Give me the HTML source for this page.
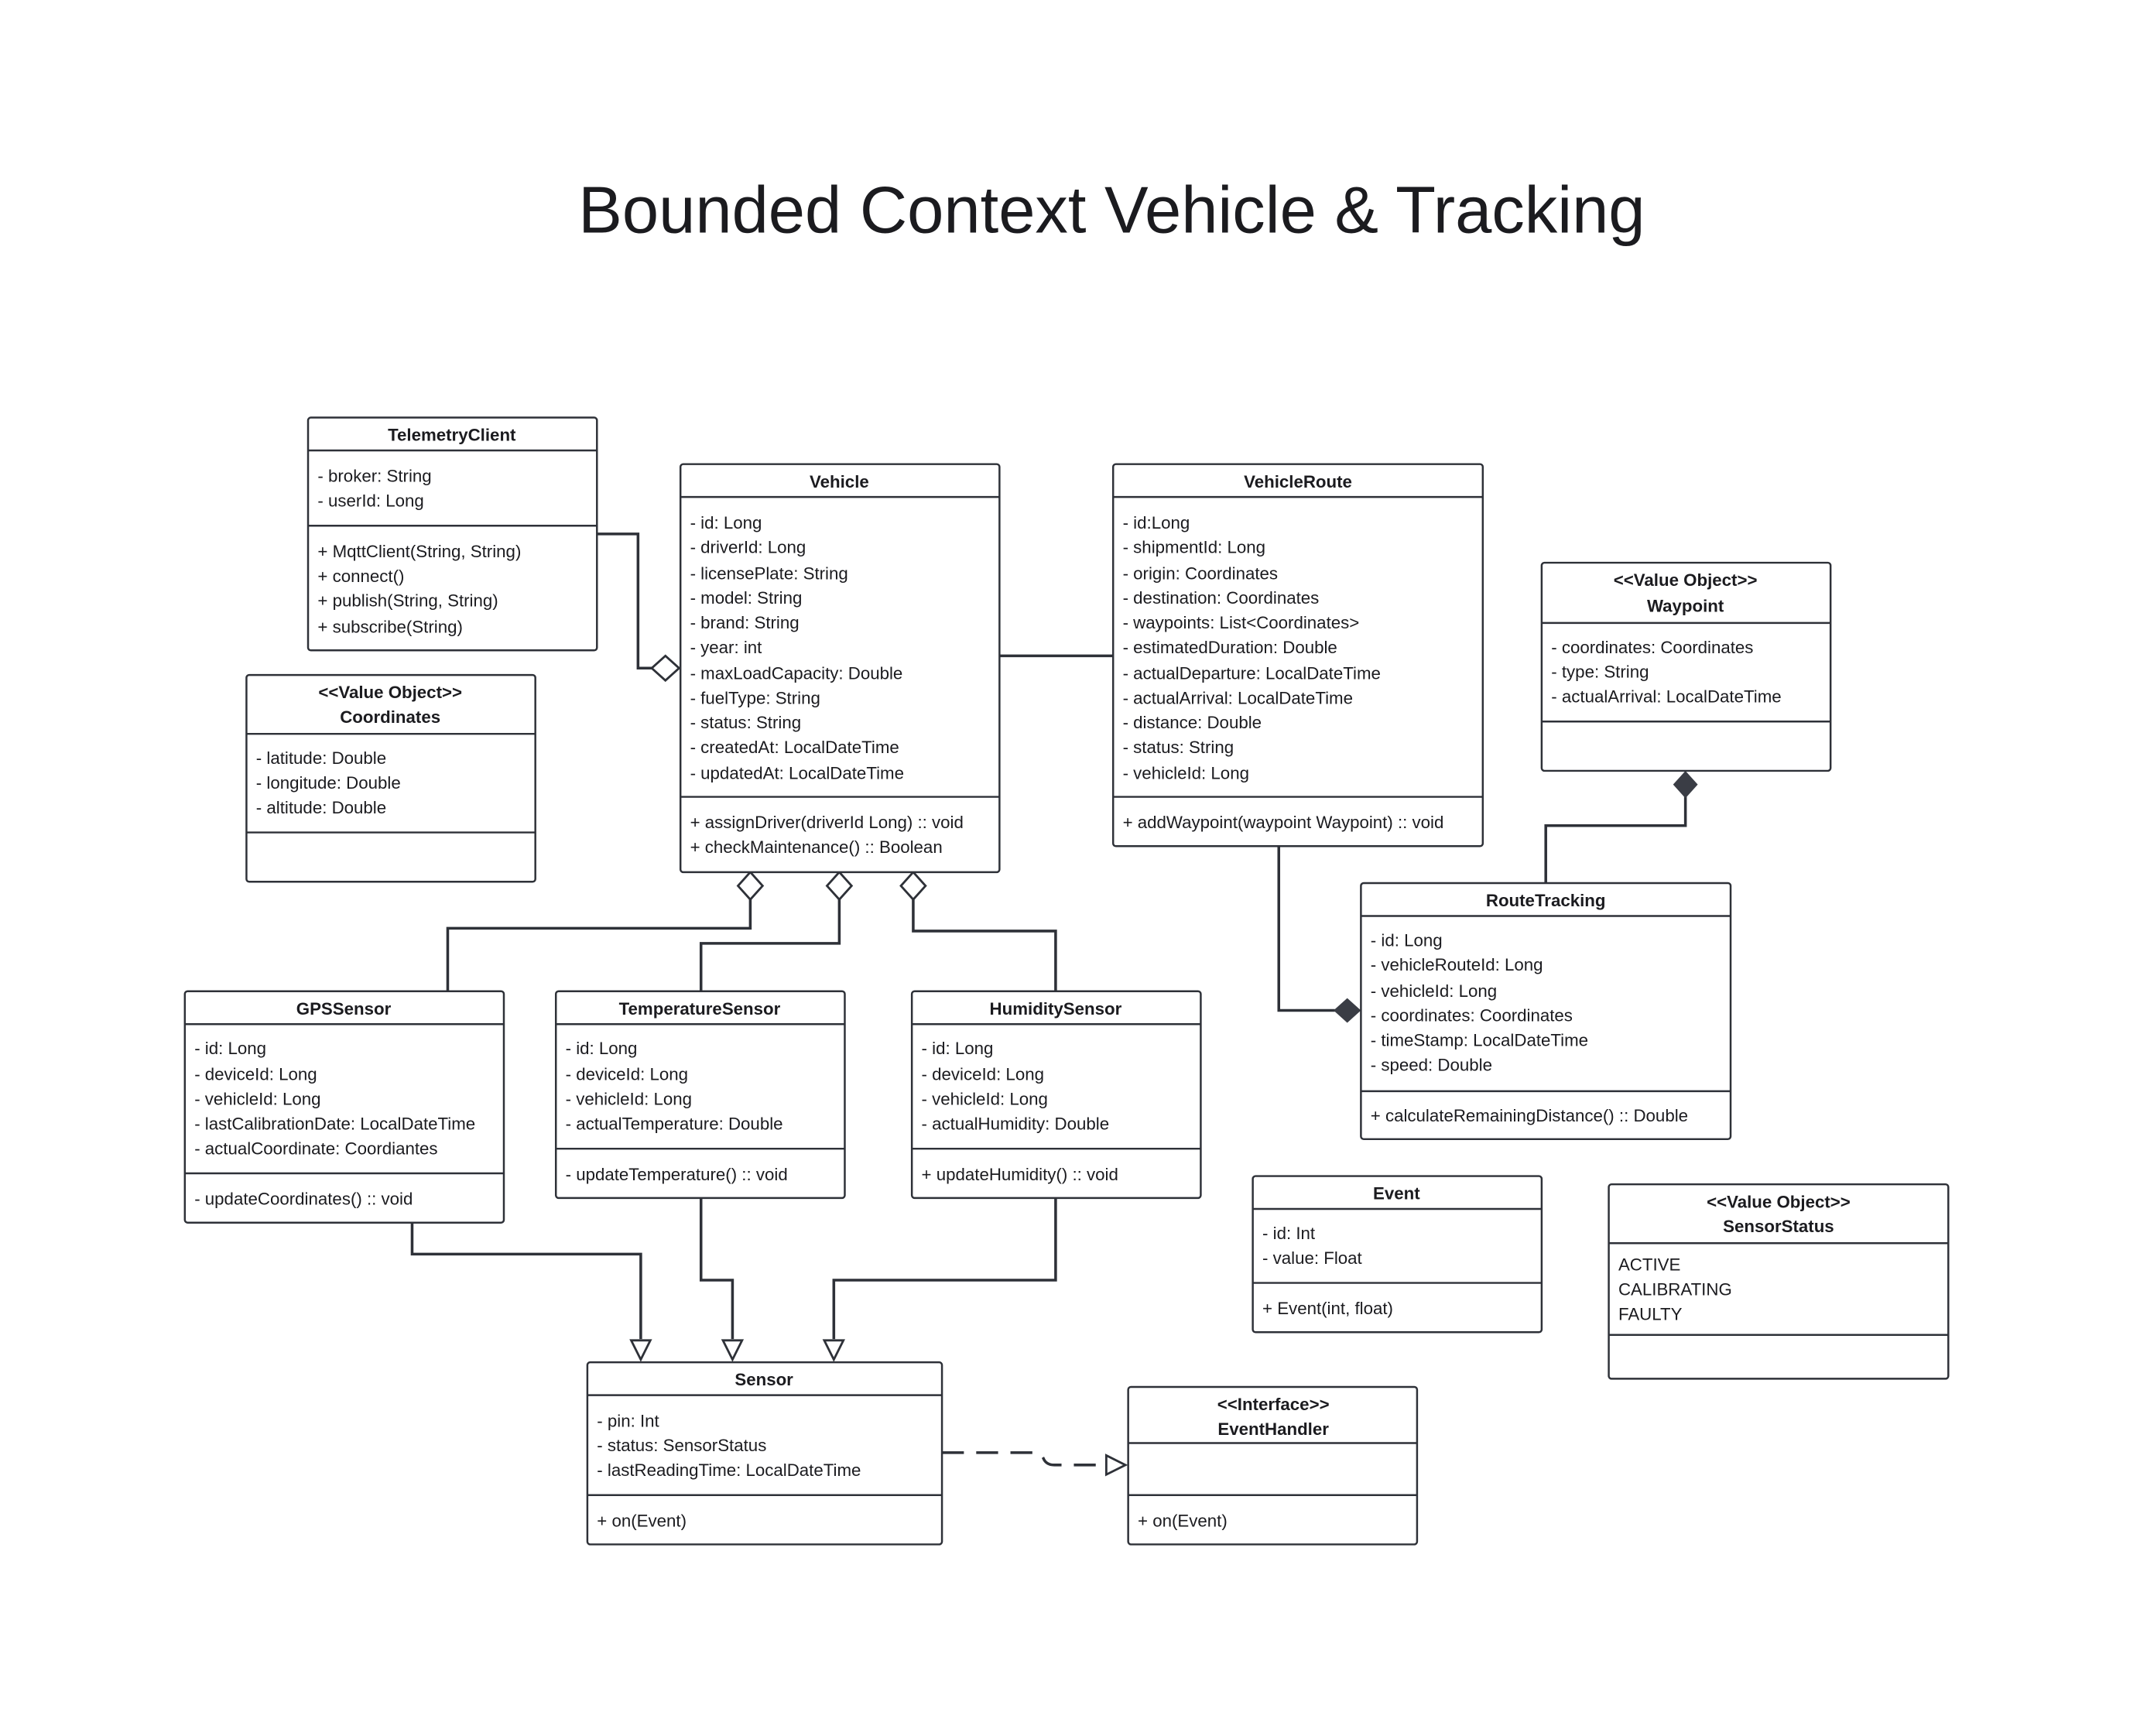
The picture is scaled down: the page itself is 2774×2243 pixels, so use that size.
<!DOCTYPE html>
<html><head><meta charset="utf-8"><style>
html,body{margin:0;padding:0;background:#fff;}
#wrap{width:2774px;height:2243px;overflow:hidden;position:relative;}
svg{position:absolute;left:0;top:0;transform-origin:0 0;transform:scale(1.769);}
text{font-family:"Liberation Sans",sans-serif;font-size:12.6px;fill:#1b1b1f;}
.h{font-weight:bold;text-anchor:middle;}
.t{font-size:48px;text-anchor:middle;}
rect{fill:#fff;stroke:#2e3138;stroke-width:1.4;}
.l{fill:none;stroke:#2e3138;stroke-width:2;}
.d{stroke:#2e3138;stroke-width:1.4;}
</style></head><body><div id="wrap">
<svg width="1568" height="1268" viewBox="0 0 1568 1268">
<text class="t" x="812" y="170">Bounded Context Vehicle &amp; Tracking</text>

<path class="l" d="M436 390 H466 V488 H477"/>
<polygon points="476,488 486,479 496,488 486,497" fill="#fff" stroke="#2e3138" stroke-width="1.6"/>
<path class="l" d="M730 479 H813"/>
<path class="l" d="M548 657 V678 H327 V724"/>
<path class="l" d="M613 657 V689 H512 V724"/>
<path class="l" d="M667 657 V680 H771 V724"/>
<polygon points="548,637 557,647 548,657 539,647" fill="#fff" stroke="#2e3138" stroke-width="1.6"/>
<polygon points="613,637 622,647 613,657 604,647" fill="#fff" stroke="#2e3138" stroke-width="1.6"/>
<polygon points="667,637 676,647 667,657 658,647" fill="#fff" stroke="#2e3138" stroke-width="1.6"/>
<path class="l" d="M934 618 V738 H975"/>
<polygon points="974,738 984,729 994,738 984,747" fill="#3a3d45"/>
<path class="l" d="M1129 645 V603 H1231 V582"/>
<polygon points="1231,563 1240,573 1231,583 1222,573" fill="#3a3d45"/>
<path class="l" d="M301 893 V916 H468 V978"/>
<path class="l" d="M512 875 V935 H535 V978"/>
<path class="l" d="M771 875 V935 H609 V978"/>
<polygon points="461,979 475,979 468,993" fill="#fff" stroke="#2e3138" stroke-width="1.6"/>
<polygon points="528,979 542,979 535,993" fill="#fff" stroke="#2e3138" stroke-width="1.6"/>
<polygon points="602,979 616,979 609,993" fill="#fff" stroke="#2e3138" stroke-width="1.6"/>
<path class="l" d="M688 1061 H756 Q760 1061 762 1065 Q764 1070 770 1070 H808" stroke-dasharray="16,9"/>
<polygon points="808,1063 808,1077 822,1070" fill="#fff" stroke="#2e3138" stroke-width="1.6"/>

<rect x="225" y="305" width="211" height="170" rx="2"/>
<line class="d" x1="225" y1="329" x2="436" y2="329"/><line class="d" x1="225" y1="384" x2="436" y2="384"/>
<text class="h" x="330" y="322">TelemetryClient</text>
<text x="232" y="352">- broker: String</text><text x="232" y="370">- userId: Long</text>
<text x="232" y="407">+ MqttClient(String, String)</text><text x="232" y="425">+ connect()</text>
<text x="232" y="443">+ publish(String, String)</text><text x="232" y="462">+ subscribe(String)</text>

<rect x="180" y="493" width="211" height="151" rx="2"/>
<line class="d" x1="180" y1="536" x2="391" y2="536"/><line class="d" x1="180" y1="608" x2="391" y2="608"/>
<text class="h" x="285" y="510">&lt;&lt;Value Object&gt;&gt;</text><text class="h" x="285" y="528">Coordinates</text>
<text x="187" y="558">- latitude: Double</text><text x="187" y="576">- longitude: Double</text><text x="187" y="594">- altitude: Double</text>

<rect x="497" y="339" width="233" height="298" rx="2"/>
<line class="d" x1="497" y1="363" x2="730" y2="363"/><line class="d" x1="497" y1="582" x2="730" y2="582"/>
<text class="h" x="613" y="356">Vehicle</text>
<text x="504" y="386">- id: Long</text><text x="504" y="404">- driverId: Long</text><text x="504" y="423">- licensePlate: String</text>
<text x="504" y="441">- model: String</text><text x="504" y="459">- brand: String</text><text x="504" y="477">- year: int</text>
<text x="504" y="496">- maxLoadCapacity: Double</text><text x="504" y="514">- fuelType: String</text><text x="504" y="532">- status: String</text>
<text x="504" y="550">- createdAt: LocalDateTime</text><text x="504" y="569">- updatedAt: LocalDateTime</text>
<text x="504" y="605">+ assignDriver(driverId Long) :: void</text><text x="504" y="623">+ checkMaintenance() :: Boolean</text>

<rect x="813" y="339" width="270" height="279" rx="2"/>
<line class="d" x1="813" y1="363" x2="1083" y2="363"/><line class="d" x1="813" y1="582" x2="1083" y2="582"/>
<text class="h" x="948" y="356">VehicleRoute</text>
<text x="820" y="386">- id:Long</text><text x="820" y="404">- shipmentId: Long</text><text x="820" y="423">- origin: Coordinates</text>
<text x="820" y="441">- destination: Coordinates</text><text x="820" y="459">- waypoints: List&lt;Coordinates&gt;</text>
<text x="820" y="477">- estimatedDuration: Double</text><text x="820" y="496">- actualDeparture: LocalDateTime</text>
<text x="820" y="514">- actualArrival: LocalDateTime</text><text x="820" y="532">- distance: Double</text>
<text x="820" y="550">- status: String</text><text x="820" y="569">- vehicleId: Long</text>
<text x="820" y="605">+ addWaypoint(waypoint Waypoint) :: void</text>

<rect x="1126" y="411" width="211" height="152" rx="2"/>
<line class="d" x1="1126" y1="455" x2="1337" y2="455"/><line class="d" x1="1126" y1="527" x2="1337" y2="527"/>
<text class="h" x="1231" y="428">&lt;&lt;Value Object&gt;&gt;</text><text class="h" x="1231" y="447">Waypoint</text>
<text x="1133" y="477">- coordinates: Coordinates</text><text x="1133" y="495">- type: String</text><text x="1133" y="513">- actualArrival: LocalDateTime</text>

<rect x="994" y="645" width="270" height="187" rx="2"/>
<line class="d" x1="994" y1="669" x2="1264" y2="669"/><line class="d" x1="994" y1="797" x2="1264" y2="797"/>
<text class="h" x="1129" y="662">RouteTracking</text>
<text x="1001" y="691">- id: Long</text><text x="1001" y="709">- vehicleRouteId: Long</text><text x="1001" y="728">- vehicleId: Long</text>
<text x="1001" y="746">- coordinates: Coordinates</text><text x="1001" y="764">- timeStamp: LocalDateTime</text><text x="1001" y="782">- speed: Double</text>
<text x="1001" y="819">+ calculateRemainingDistance() :: Double</text>

<rect x="135" y="724" width="233" height="169" rx="2"/>
<line class="d" x1="135" y1="748" x2="368" y2="748"/><line class="d" x1="135" y1="857" x2="368" y2="857"/>
<text class="h" x="251" y="741">GPSSensor</text>
<text x="142" y="770">- id: Long</text><text x="142" y="789">- deviceId: Long</text><text x="142" y="807">- vehicleId: Long</text>
<text x="142" y="825">- lastCalibrationDate: LocalDateTime</text><text x="142" y="843">- actualCoordinate: Coordiantes</text>
<text x="142" y="880">- updateCoordinates() :: void</text>

<rect x="406" y="724" width="211" height="151" rx="2"/>
<line class="d" x1="406" y1="748" x2="617" y2="748"/><line class="d" x1="406" y1="839" x2="617" y2="839"/>
<text class="h" x="511" y="741">TemperatureSensor</text>
<text x="413" y="770">- id: Long</text><text x="413" y="789">- deviceId: Long</text><text x="413" y="807">- vehicleId: Long</text>
<text x="413" y="825">- actualTemperature: Double</text><text x="413" y="862">- updateTemperature() :: void</text>

<rect x="666" y="724" width="211" height="151" rx="2"/>
<line class="d" x1="666" y1="748" x2="877" y2="748"/><line class="d" x1="666" y1="839" x2="877" y2="839"/>
<text class="h" x="771" y="741">HumiditySensor</text>
<text x="673" y="770">- id: Long</text><text x="673" y="789">- deviceId: Long</text><text x="673" y="807">- vehicleId: Long</text>
<text x="673" y="825">- actualHumidity: Double</text><text x="673" y="862">+ updateHumidity() :: void</text>

<rect x="915" y="859" width="211" height="114" rx="2"/>
<line class="d" x1="915" y1="883" x2="1126" y2="883"/><line class="d" x1="915" y1="937" x2="1126" y2="937"/>
<text class="h" x="1020" y="876">Event</text>
<text x="922" y="905">- id: Int</text><text x="922" y="923">- value: Float</text><text x="922" y="960">+ Event(int, float)</text>

<rect x="1175" y="865" width="248" height="142" rx="2"/>
<line class="d" x1="1175" y1="908" x2="1423" y2="908"/><line class="d" x1="1175" y1="975" x2="1423" y2="975"/>
<text class="h" x="1299" y="882">&lt;&lt;Value Object&gt;&gt;</text><text class="h" x="1299" y="900">SensorStatus</text>
<text x="1182" y="928">ACTIVE</text><text x="1182" y="946">CALIBRATING</text><text x="1182" y="964">FAULTY</text>

<rect x="429" y="995" width="259" height="133" rx="2"/>
<line class="d" x1="429" y1="1019" x2="688" y2="1019"/><line class="d" x1="429" y1="1092" x2="688" y2="1092"/>
<text class="h" x="558" y="1012">Sensor</text>
<text x="436" y="1042">- pin: Int</text><text x="436" y="1060">- status: SensorStatus</text><text x="436" y="1078">- lastReadingTime: LocalDateTime</text>
<text x="436" y="1115">+ on(Event)</text>

<rect x="824" y="1013" width="211" height="115" rx="2"/>
<line class="d" x1="824" y1="1054" x2="1035" y2="1054"/><line class="d" x1="824" y1="1092" x2="1035" y2="1092"/>
<text class="h" x="930" y="1030">&lt;&lt;Interface&gt;&gt;</text><text class="h" x="930" y="1048">EventHandler</text>
<text x="831" y="1115">+ on(Event)</text>
</svg></div></body></html>
